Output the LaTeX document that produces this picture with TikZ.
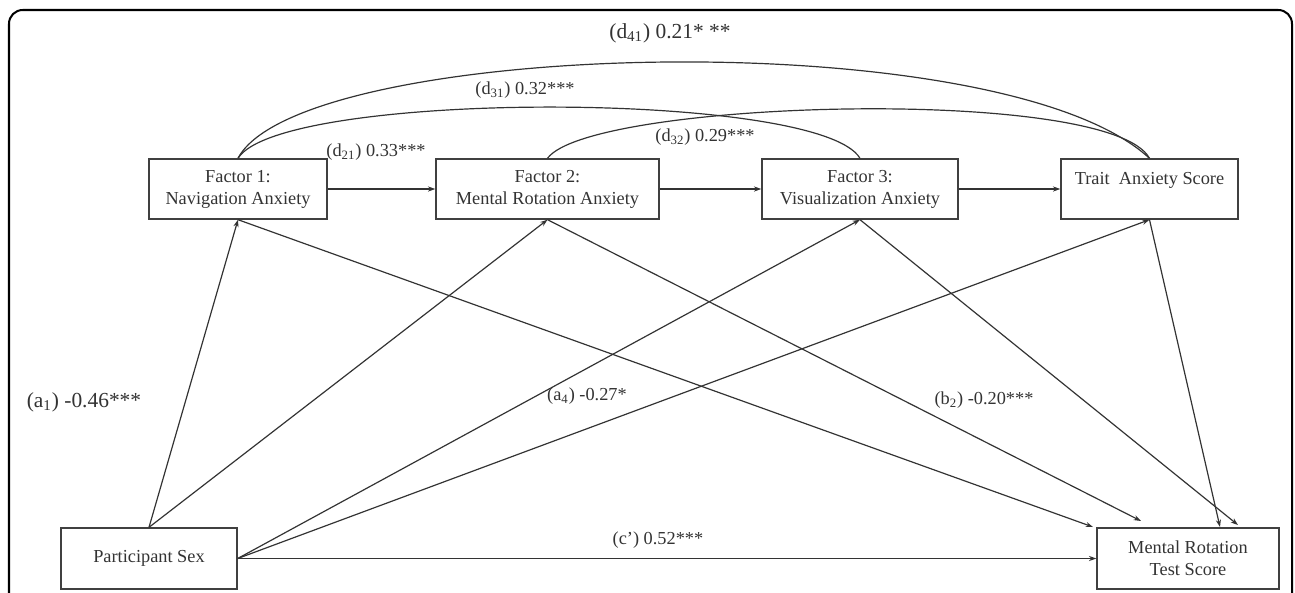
\documentclass[tikz,border=0pt]{standalone}
\usepackage{fontspec}
\setmainfont{Liberation Serif}
\usetikzlibrary{arrows.meta}
\def\pxu{0.546pt}

\begin{document}
\begin{tikzpicture}[x=0.546pt,y=-0.546pt,
  box/.style={draw=black!75,line width=0.75pt,inner sep=0,align=center,text=black!80,
    font=\fontsize{10}{12}\selectfont,minimum height=60*\pxu},
  arr/.style={draw=black!80,line width=0.65pt,-{Stealth[length=4pt,width=2.8pt]}},
  link/.style={draw=black!80,line width=0.65pt},
  lbl/.style={text=black!80,inner sep=0,font=\fontsize{10}{12}\selectfont},
  biglbl/.style={text=black!80,inner sep=0,font=\fontsize{11.7}{14}\selectfont}]
\useasboundingbox (0,0) rectangle (1295,592);
\fill[white] (0,0) rectangle (1295,592);
% outer frame, open at the bottom
\draw[line width=1.1pt,rounded corners=7.5pt] (9,640) |- (1292,10) -- (1292,640);

% boxes
\node[box,minimum width=178*\pxu] (f1) at (238,189) {Factor 1:\\Navigation Anxiety};
\node[box,minimum width=223*\pxu] (f2) at (547.5,189) {Factor 2:\\Mental Rotation Anxiety};
\node[box,minimum width=196*\pxu] (f3) at (860,189) {Factor 3:\\Visualization Anxiety};
\node[box,minimum width=177*\pxu] (trait) at (1149.5,189) {Trait\ \ Anxiety Score\\\mbox{}};
\node[box,minimum width=176*\pxu,minimum height=61*\pxu] (sex) at (149,558.5) {Participant Sex};
\node[box,minimum width=182*\pxu,minimum height=61*\pxu] (mrt) at (1188,558.5) {Mental Rotation\\Test Score};

% arrow ends above the outcome box
\coordinate (mrtA) at (1093,527);
\coordinate (mrtB) at (1141,521);
\coordinate (mrtC) at (1220,527);
\coordinate (mrtD) at (1238,525);

% chain
\draw[arr] (f1) -- (f2);
\draw[arr] (f2) -- (f3);
\draw[arr] (f3) -- (trait);

% from participant sex
\draw[arr] (sex.north) -- (f1.south);
\draw[arr] (sex.north) -- (f2.south);
\draw[arr] (sex.east) -- (f3.south);
\draw[arr] (sex.east) -- (trait.south);
\draw[arr] (sex.east) -- (mrt.west);

% into the test score
\draw[arr] (f1.south) -- (mrtA);
\draw[arr] (f2.south) -- (mrtB);
\draw[arr] (trait.south) -- (mrtC);
\draw[arr] (f3.south) -- (mrtD);

% covariances
\draw[link] (f1.north) .. controls (300,40) and (1000,20) .. (trait.north);
\draw[link] (f1.north) .. controls (280,90) and (820,90) .. (f3.north);
\draw[link] (f2.north) .. controls (590,100) and (1110,85) .. (trait.north);

% labels
\node[biglbl] (ldfourone) at (670,33) {(d\textsubscript{41}) 0.21* **};
\node[lbl] (ldthreeone) at (525,90) {(d\textsubscript{31}) 0.32***};
\node[lbl] (ldtwoone) at (376,152) {(d\textsubscript{21}) 0.33***};
\node[lbl] (ldthreetwo) at (705,137) {(d\textsubscript{32}) 0.29***};
\node[biglbl] (laone) at (84,402) {(a\textsubscript{1}) -0.46***};
\node[lbl] (lafour) at (587,396) {(a\textsubscript{4}) -0.27*};
\node[lbl] (lbtwo) at (984,400) {(b\textsubscript{2}) -0.20***};
\node[lbl] (lc) at (658,540) {(c’) 0.52***};
\end{tikzpicture}
\end{document}
